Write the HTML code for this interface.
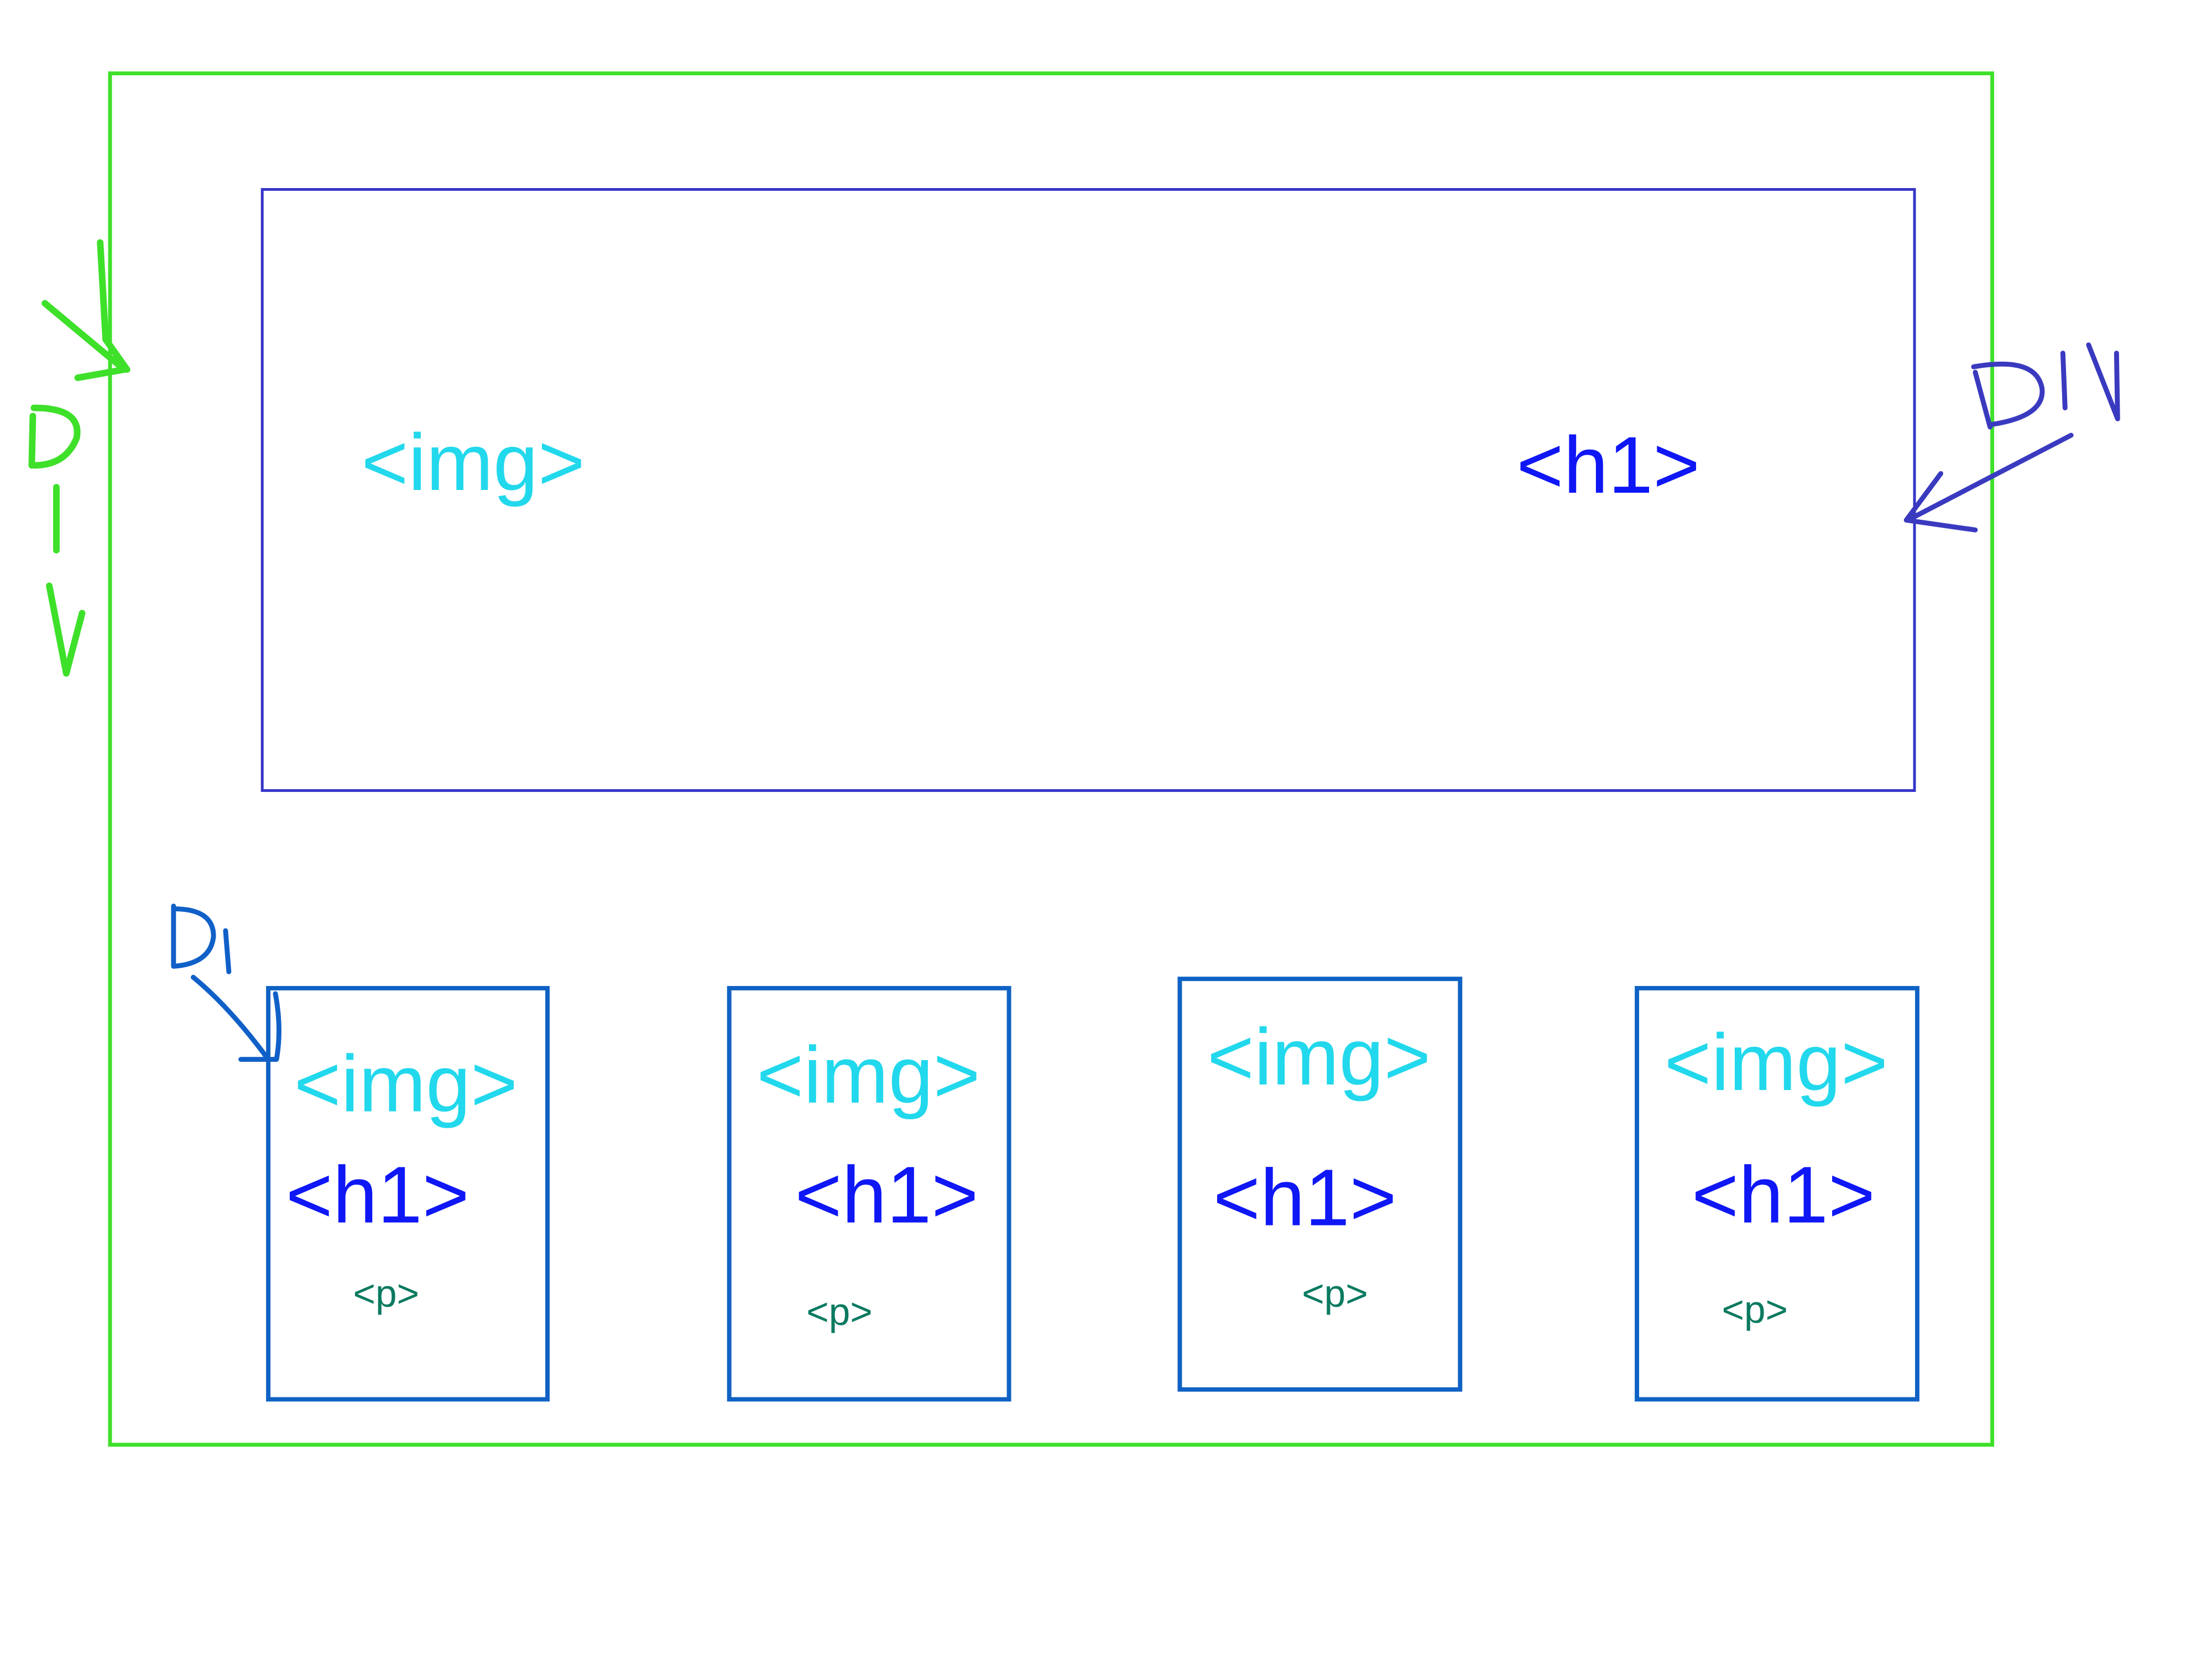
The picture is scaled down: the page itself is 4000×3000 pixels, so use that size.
<!DOCTYPE html>
<html><head><meta charset="utf-8"><style>
html,body{margin:0;padding:0;background:#fff;}
svg{display:block;}
text{font-family:"Liberation Sans",sans-serif;}
</style></head><body>
<svg width="4000" height="3000" viewBox="0 0 4000 3000">
<g transform="scale(0.99)">
<rect x="201" y="134" width="3438" height="2505" fill="none" stroke="#3ee02a" stroke-width="7"/>
<rect x="479" y="346" width="3018" height="1098" fill="none" stroke="#3535c8" stroke-width="5"/>
<text x="660" y="895" font-size="147" fill="#22d8ec">&lt;img&gt;</text>
<text x="2770" y="900" font-size="147" fill="#0f17f5">&lt;h1&gt;</text>

<g>
<rect x="490" y="1805" width="510" height="751" fill="none" stroke="#0f62c4" stroke-width="8"/>
<text x="537" y="2030" font-size="147" fill="#22d8ec">&lt;img&gt;</text>
<text x="522" y="2233" font-size="147" fill="#0f17f5">&lt;h1&gt;</text>
<text x="645" y="2387" font-size="70" fill="#0a7a60">&lt;p&gt;</text>
</g>
<g>
<rect x="1332" y="1805" width="511" height="751" fill="none" stroke="#0f62c4" stroke-width="8"/>
<text x="1382" y="2014" font-size="147" fill="#22d8ec">&lt;img&gt;</text>
<text x="1452" y="2233" font-size="147" fill="#0f17f5">&lt;h1&gt;</text>
<text x="1473" y="2420" font-size="70" fill="#0a7a60">&lt;p&gt;</text>
</g>
<g>
<rect x="2155" y="1788" width="512" height="750" fill="none" stroke="#0f62c4" stroke-width="8"/>
<text x="2205" y="1981" font-size="147" fill="#22d8ec">&lt;img&gt;</text>
<text x="2216" y="2238" font-size="147" fill="#0f17f5">&lt;h1&gt;</text>
<text x="2378" y="2387" font-size="70" fill="#0a7a60">&lt;p&gt;</text>
</g>
<g>
<rect x="2990" y="1805" width="512" height="751" fill="none" stroke="#0f62c4" stroke-width="8"/>
<text x="3040" y="1991" font-size="147" fill="#22d8ec">&lt;img&gt;</text>
<text x="3090" y="2233" font-size="147" fill="#0f17f5">&lt;h1&gt;</text>
<text x="3145" y="2416" font-size="70" fill="#0a7a60">&lt;p&gt;</text>
</g>

<g fill="none" stroke="#3ee02a" stroke-width="12" stroke-linecap="round" stroke-linejoin="round">
<path d="M183 443 L193 620 L232 675"/>
<path d="M82 554 L227 675 L142 690"/>
<path d="M60 760 L58 850 M62 745 Q150 745 140 800 Q120 850 62 850"/>
<path d="M103 890 L103 1005"/>
<path d="M90 1070 L121 1230 L150 1120"/>
</g>
<g fill="none" stroke="#3a3ac0" stroke-width="9" stroke-linecap="round" stroke-linejoin="round">
<path d="M3608 680 L3635 780 M3605 670 Q3720 650 3730 710 Q3735 760 3640 775"/>
<path d="M3768 645 L3772 745"/>
<path d="M3815 630 L3868 765 L3866 645"/>
<path d="M3783 795 L3485 950"/>
<path d="M3545 865 L3482 950 L3608 968"/>
</g>
<g fill="none" stroke="#1060c8" stroke-width="9" stroke-linecap="round" stroke-linejoin="round">
<path d="M317 1655 L317 1765 M317 1660 Q390 1660 390 1710 Q385 1760 317 1765"/>
<path d="M412 1700 L418 1775"/>
<path d="M353 1785 Q420 1840 490 1935"/>
<path d="M503 1815 Q515 1880 505 1935 L440 1935"/>
</g>
</g>
</svg>
</body></html>
